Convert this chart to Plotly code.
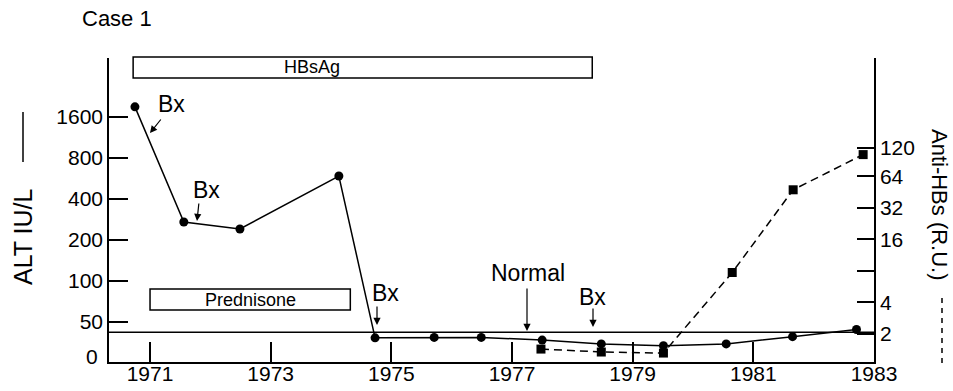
import plotly.graph_objects as go
import math

# ---------------- data ----------------
alt_years = [1970.75, 1971.56, 1972.49, 1974.13, 1974.73, 1975.71, 1976.49,
             1977.50, 1978.48, 1979.51, 1980.55, 1981.65, 1982.71]
alt_values = [1900, 271, 241, 590, 38.2, 38.5, 38.5, 36.8, 34.5, 33.5, 34.5, 39, 44]

anti_years = [1977.48, 1978.48, 1979.51, 1980.65, 1981.66, 1982.82]
anti_values = [1.43, 1.34, 1.31, 7.7, 47.5, 103]

x_ticks = [1971, 1973, 1975, 1977, 1979, 1981, 1983]
alt_ticks = [50, 100, 200, 400, 800, 1600]
anti_ticks = [2, 4, 8, 16, 32, 64, 120]
anti_ticktext = ["2", "4", "", "16", "32", "64", "120"]
normal_alt = 42

W, H = 953, 391
ML, MR, MT, MB = 109, 79, 58, 29
PW, PH = W - ML - MR, H - MT - MB

FONT = "Liberation Sans, Arial, Helvetica, sans-serif"


def px(x):
    return (x - ML) / PW


def py(y):
    return (H - MB - y) / PH


fig = go.Figure()

fig.add_trace(go.Scatter(
    x=alt_years, y=alt_values, mode="lines+markers",
    line=dict(color="black", width=1.5),
    marker=dict(symbol="circle", size=9, color="black"),
    yaxis="y", showlegend=False, cliponaxis=False))

fig.add_trace(go.Scatter(
    x=anti_years, y=anti_values, mode="lines+markers",
    line=dict(color="black", width=1.5, dash="8px,5px"),
    marker=dict(symbol="square", size=9, color="black"),
    yaxis="y2", showlegend=False, cliponaxis=False))

axis_common = dict(showline=True, linecolor="black", linewidth=1.5,
                   ticks="inside", tickcolor="black", tickwidth=1.5,
                   showgrid=False, zeroline=False, automargin=False,
                   tickfont=dict(family=FONT, size=21, color="black"))

fig.update_layout(
    width=W, height=H,
    margin=dict(l=ML, r=MR, t=MT, b=MB, pad=0, autoexpand=False),
    paper_bgcolor="white", plot_bgcolor="white",
    xaxis=dict(range=[1970.32, 1983.0], tickvals=x_ticks, ticklen=20,
               ticklabelstandoff=-8, **axis_common),
    yaxis=dict(type="log", range=[math.log10(25.4), math.log10(4341)],
               tickvals=alt_ticks, ticklen=19, **axis_common),
    yaxis2=dict(type="log", overlaying="y", side="right",
                range=[math.log10(1.076), math.log10(862)],
                tickvals=anti_ticks, ticktext=anti_ticktext, ticklen=17,
                **axis_common),
)

# normal line
fig.add_shape(type="line", xref="paper", yref="y", x0=0, x1=1,
              y0=normal_alt, y1=normal_alt,
              line=dict(color="black", width=1.3))

# HBsAg box
fig.add_shape(type="rect", xref="x", yref="paper", x0=1970.72, x1=1978.33,
              y0=py(78), y1=py(57), line=dict(color="black", width=1.5))
# Prednisone box
fig.add_shape(type="rect", xref="x", yref="paper", x0=1971.0, x1=1974.32,
              y0=py(310), y1=py(289), line=dict(color="black", width=1.5))

# legend line marks
fig.add_shape(type="line", xref="paper", yref="paper", x0=px(23), x1=px(23),
              y0=py(112), y1=py(162), line=dict(color="black", width=1.5))
fig.add_shape(type="line", xref="paper", yref="paper", x0=px(942), x1=px(942),
              y0=py(298), y1=py(363), line=dict(color="black", width=1.5, dash="5px,5px"))


def text(x, y, s, size=23, angle=0, xanchor="center"):
    fig.add_annotation(xref="paper", yref="paper", x=px(x), y=py(y), text=s,
                       showarrow=False, textangle=angle, xanchor=xanchor,
                       yanchor="middle",
                       font=dict(family=FONT, size=size, color="black"))


def arrow(hx, hy, tx, ty):
    fig.add_annotation(xref="paper", yref="paper", x=px(hx), y=py(hy), text="",
                       showarrow=True, ax=tx - hx, ay=ty - hy,
                       arrowhead=2, arrowsize=1.2, arrowwidth=1.2,
                       arrowcolor="black")


text(80, 19, "Case 1", size=22, xanchor="left")
text(23, 237, "ALT IU/L", size=25, angle=-90)
text(940, 205, "Anti-HBs (R.U.)", size=22, angle=90)
text(312, 67, "HBsAg", size=18)
text(250, 300, "Prednisone", size=18)
text(100, 356, "0", size=21, xanchor="right")

text(171, 104, "Bx")
arrow(150, 133, 162, 118)
text(206, 190, "Bx")
arrow(197, 221, 199, 202)
text(385, 293, "Bx")
arrow(377, 325, 377, 305)
text(528, 273, "Normal")
arrow(527, 331, 527, 287)
text(592, 297, "Bx")
arrow(593, 327, 593, 307)

fig.write_html("out.html",
               config={"displayModeBar": False},
               post_script="document.body.style.margin='0px';"
                           "document.body.style.overflow='hidden';")
